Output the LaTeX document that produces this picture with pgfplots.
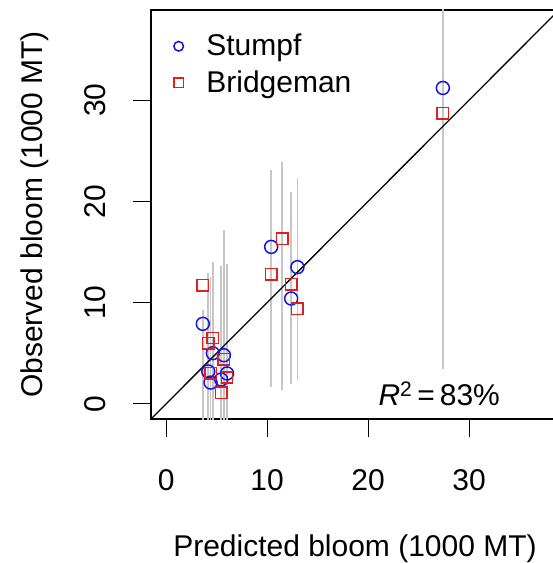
\documentclass[border=0pt]{standalone}
\usepackage{fontspec}
\setmainfont{Liberation Sans}
\usepackage{pgfplots}
\usepackage{pgfplotstable}
\pgfplotsset{compat=1.18}
\definecolor{rblue}{RGB}{20,20,225}
\definecolor{rred}{RGB}{225,30,30}
\definecolor{rgray}{RGB}{198,198,198}

% prediction intervals (predicted, lower / upper), separated by nan rows
\pgfplotstableread{
x y
3.63 -5
3.63 9.3
nan nan
4.17 -5
4.17 12.9
nan nan
4.40 -5
4.40 12.5
nan nan
4.62 -5
4.62 14.0
nan nan
5.45 -5
5.45 13.6
nan nan
5.72 -5
5.72 17.2
nan nan
6.03 -5
6.03 13.8
nan nan
10.40 1.7
10.40 23.1
nan nan
11.49 1.4
11.49 23.9
nan nan
12.38 2.0
12.38 20.9
nan nan
13.00 2.4
13.00 22.3
nan nan
27.40 3.4
27.40 45
}\intervals

\pgfplotstableread{
x y
3.63 7.9
4.17 3.2
4.40 2.1
4.62 5.0
5.45 2.4
5.72 4.8
6.03 3.0
10.40 15.5
12.38 10.4
13.00 13.5
27.40 31.2
}\stumpf

\pgfplotstableread{
x y
3.63 11.7
4.17 6.0
4.40 3.0
4.62 6.5
5.45 1.1
5.72 4.4
6.03 2.6
10.40 12.8
11.49 16.3
12.38 11.8
13.00 9.4
27.40 28.7
}\bridgeman

\begin{document}
\begin{tikzpicture}[x=1pt,y=1pt,font=\fontsize{30pt}{36pt}\selectfont]
\useasboundingbox (-151,-144) rectangle (402,419);
\begin{axis}[
  at={(0,0)}, anchor=south west, scale only axis,
  width=408pt, height=409pt,
  xmin=-1.5, xmax=38.9, ymin=-1.5, ymax=38.9,
  xtick={0,10,20,30}, ytick={0,10,20,30},
  /pgf/number format/assume math mode=true,
  tick align=outside, major tick length=18pt,
  xtick pos=bottom, ytick pos=left,
  tick style={black, line width=1.2pt},
  axis line style={black, line width=1.3pt},
  xticklabel style={inner sep=0pt, anchor=north},
  xticklabel shift=32pt,
  yticklabel style={rotate=90, inner sep=0pt, anchor=south},
  yticklabel shift=27pt,
  xlabel={Predicted bloom (1000 MT)},
  ylabel={Observed bloom (1000 MT)},
  xlabel style={at={(axis description cs:0.5,-0.335)}, anchor=base, inner sep=0pt},
  ylabel style={at={(axis description cs:-0.267,0.5)}, anchor=base, inner sep=0pt},
  legend style={at={(axis description cs:0.0551,0.9413)}, anchor=north west,
    draw=none, fill=none, inner sep=0pt, outer sep=0pt, row sep=9pt, column sep=0pt,
    nodes={inner sep=0pt, text height=21.5pt, text depth=6pt}},
  legend cell align=left,
  legend image code/.code={\path (0pt,0pt) (32.5pt,0pt);
    \draw[#1, mark size=4.8pt] plot coordinates {(5pt,1.5pt)};},
]
\addplot[forget plot, rgray, line width=1.6pt, unbounded coords=jump] table {\intervals};
\addplot[forget plot, black, line width=1.3pt] coordinates {(-5,-5) (45,45)};
\addplot[only marks, mark=o, mark size=6.5pt, rblue, mark options={line width=1.5pt}] table {\stumpf};
\addlegendentry{Stumpf}
\addplot[only marks, mark=square, mark size=5.7pt, rred, mark options={line width=1.5pt}] table {\bridgeman};
\addlegendentry{Bridgeman}
\node[anchor=base east, inner sep=0pt] at (axis cs:33.07,-0.2) {{\itshape R}\textsuperscript{2}\,=\,83\%};
\end{axis}
\end{tikzpicture}
\end{document}
